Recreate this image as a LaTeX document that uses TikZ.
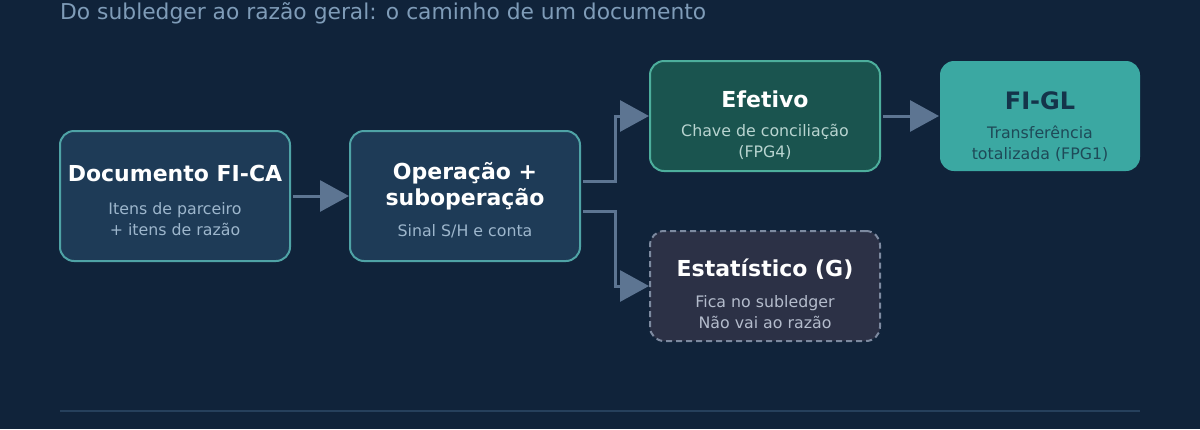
\documentclass[tikz,border=0pt]{standalone}
\usepackage{fontspec}
\setmainfont{DejaVu Sans}
\usetikzlibrary{arrows.meta,calc}
\definecolor{bg}{HTML}{10233A}
\definecolor{titlec}{HTML}{7F9CB8}
\definecolor{boxfill}{HTML}{1E3B57}
\definecolor{boxline}{HTML}{4FA3A6}
\definecolor{subc}{HTML}{9DB6CC}
\definecolor{effill}{HTML}{1A544F}
\definecolor{efline}{HTML}{4DAE9C}
\definecolor{effsub}{HTML}{B8D4D0}
\definecolor{glfill}{HTML}{3BA8A2}
\definecolor{gltext}{HTML}{14344A}
\definecolor{glsub}{HTML}{1E4A58}
\definecolor{stfill}{HTML}{2C3146}
\definecolor{stline}{HTML}{7D8AA0}
\definecolor{stsub}{HTML}{B4BCCC}
\definecolor{arrowc}{HTML}{5D7592}
\definecolor{rulec}{HTML}{26405C}
\tikzset{
  box/.style={rounded corners=14pt, line width=2pt, inner sep=0pt},
  ttl/.style={font=\fontsize{22}{26}\selectfont\bfseries, text=white, align=center, inner sep=0pt},
  sub/.style={font=\fontsize{15.8}{21}\selectfont, align=center, inner sep=0pt},
  conn/.style={draw=arrowc, line width=3pt, -{Triangle[length=29pt,width=31pt]}},
}
\begin{document}
\begin{tikzpicture}[x=1pt,y=-1pt]
\fill[bg] (0,0) rectangle (1200,429);
\useasboundingbox (0,0) rectangle (1200,429);
\node[anchor=west, inner sep=0pt, text=titlec, font=\fontsize{21.8}{26}\selectfont] (title) at (60,13) {Do subledger ao razão geral: o caminho de um documento};

\node[box, draw=boxline, fill=boxfill, minimum width=230pt, minimum height=130pt] (doc) at (175,196) {};
\node[ttl] (doct) at (175,173) {Documento FI-CA};
\node[sub, text=subc] (docs) at (175,219) {Itens de parceiro\\+ itens de razão};

\node[box, draw=boxline, fill=boxfill, minimum width=230pt, minimum height=130pt] (op) at (465,196) {};
\node[ttl] (opt) at (465,186) {Operação +\\suboperação};
\node[sub, text=subc] (ops) at (465,231) {Sinal S/H e conta};

\node[box, draw=efline, fill=effill, minimum width=230pt, minimum height=110pt] (ef) at (765,116) {};
\node[ttl] (eft) at (765,99) {Efetivo};
\node[sub, text=effsub] (efs) at (765,142) {Chave de conciliação\\(FPG4)};

\node[box, draw=none, fill=glfill, minimum width=200pt, minimum height=110pt] (gl) at (1040,116) {};
\node[ttl, text=gltext, font=\fontsize{24}{28}\selectfont\bfseries] (glt) at (1040,101) {FI-GL};
\node[sub, text=glsub] (gls) at (1040,144) {Transferência\\totalizada (FPG1)};

\node[box, draw=stline, dashed, dash pattern=on 6pt off 4pt, fill=stfill, minimum width=230pt, minimum height=110pt] (st) at (765,286) {};
\node[ttl] (stt) at (765,269) {Estatístico (G)};
\node[sub, text=stsub] (sts) at (765,312) {Fica no subledger\\Não vai ao razão};

\draw[conn] ($(doc.east)+(2,0)$) -- (op.west);
\draw[conn] ($(op.east)+(2,-15)$) -- (615,181) -- (615,116) -- (ef.west);
\draw[conn] ($(op.east)+(2,15)$) -- (615,211) -- (615,286) -- (st.west);
\draw[conn] ($(ef.east)+(2,0)$) -- (gl.west);

\draw[rulec, line width=1.5pt] (60,411) coordinate (r1) -- (1140,411) coordinate (r2);
\end{tikzpicture}
\end{document}
